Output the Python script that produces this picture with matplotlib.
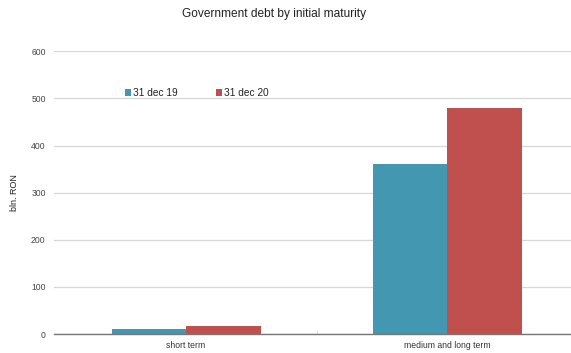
import matplotlib
matplotlib.use("Agg")
import matplotlib.pyplot as plt
import numpy as np

plt.rcParams['font.family'] = ['Liberation Sans', 'DejaVu Sans']

categories = ["short term", "medium and long term"]
series_names = ["31 dec 19", "31 dec 20"]
values_2019 = [10.5, 361]
values_2020 = [17, 480]
y_ticks = [0, 100, 200, 300, 400, 500, 600]

colors = ["#4397b0", "#c0504d"]

W, H = 571, 353
fig = plt.figure(figsize=(W / 100, H / 100), dpi=100)
ax = fig.add_axes([54 / W, (H - 334) / H, 1 - 54 / W, (334 - 51.3) / H])

x = np.arange(len(categories))
bw = 0.285
ax.bar(x - bw / 2, values_2019, bw, color=colors[0], label=series_names[0], zorder=3)
ax.bar(x + bw / 2, values_2020, bw, color=colors[1], label=series_names[1], zorder=3)

ax.set_xlim(-0.506, 1.474)
ax.set_ylim(0, 600)
ax.set_yticks(y_ticks)
ax.set_yticklabels([str(v) for v in y_ticks], fontsize=6.2, color="#444444")
ax.set_xticks(x)
ax.set_xticklabels(categories, fontsize=6.2, color="#333333")
ax.set_xticks([0.5], minor=True)
ax.tick_params(axis="y", length=0, pad=6)
ax.tick_params(axis="x", which="major", length=0, pad=5)
ax.tick_params(axis="x", which="minor", length=2, color="#cccccc", direction="in")

ax.grid(axis="y", color="#d6d6d6", linewidth=0.9, zorder=0)
for s in ["top", "right", "left"]:
    ax.spines[s].set_visible(False)
ax.spines["bottom"].set_color("#777777")
ax.spines["bottom"].set_linewidth(1.0)
ax.spines["bottom"].set_zorder(4)

ax.set_ylabel("bln. RON", fontsize=6.5, color="#222222", labelpad=9)

fig.text(274 / W, 1 - 14 / H, "Government debt by initial maturity",
         ha="center", va="center", fontsize=8.6, color="#222222")

leg = ax.legend(loc="center left", bbox_to_anchor=(121 / W, 1 - 93 / H),
                bbox_transform=fig.transFigure, ncol=2, frameon=False,
                fontsize=7.3, handlelength=0.6, handleheight=0.6,
                handletextpad=0.2, columnspacing=3.8, borderaxespad=0)
for t in leg.get_texts():
    t.set_color("#222222")

fig.savefig("out.png", dpi=100)
